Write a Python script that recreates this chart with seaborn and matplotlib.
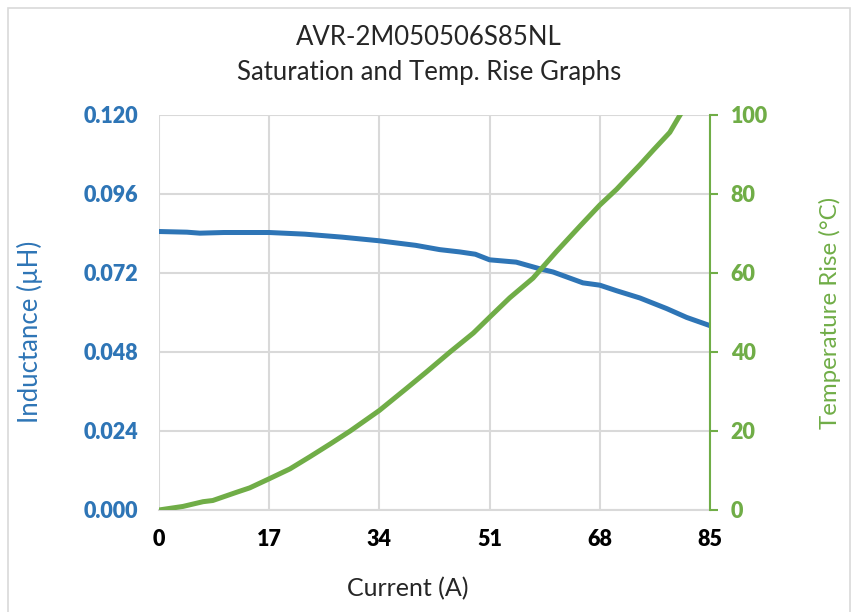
import numpy as np
import pandas as pd
import matplotlib
matplotlib.use('Agg')
import matplotlib.pyplot as plt
import seaborn as sns

# values
current_l = [0, 4.3, 6.3, 10, 17, 22.5, 28.2, 33.9, 39.6, 43.3, 46.4, 48.8,
             51, 55.1, 58.7, 60.8, 65.4, 68, 70.6, 74.2, 78.3, 81.4, 85]
inductance = [0.0846, 0.0844, 0.0841, 0.0843, 0.0843, 0.0838, 0.0829, 0.0818,
              0.0804, 0.0791, 0.0784, 0.0777, 0.0760, 0.0753, 0.0733, 0.0723,
              0.0690, 0.0683, 0.0666, 0.0644, 0.0612, 0.0585, 0.0560]

current_t = [0, 3.7, 6.8, 8.3, 12, 14, 17, 20.2, 23.3, 26.4, 29.5, 34, 38.2,
             41.3, 44.9, 48.5, 51, 54.1, 57.7, 61.3, 64.9, 68, 70.6, 72.1,
             74.2, 76.3, 78.8, 80.2, 81.5]
temp_rise = [0, 0.9, 2.1, 2.4, 4.5, 5.6, 7.9, 10.4, 13.5, 16.7, 20.0, 25.2,
             30.8, 35.0, 40.0, 44.8, 48.8, 53.7, 58.7, 65.4, 71.8, 77.2, 81.2,
             83.8, 87.4, 91.2, 95.6, 99.5, 103]

x_ticks = [0, 17, 34, 51, 68, 85]
l_ticks = [0.000, 0.024, 0.048, 0.072, 0.096, 0.120]
t_ticks = [0, 20, 40, 60, 80, 100]

blue = '#2E75B6'
green = '#70AD47'
grid_c = '#D9D9D9'

sns.set_theme(style='white')
plt.rcParams['font.family'] = ['Lato', 'DejaVu Sans']

fig = plt.figure(figsize=(8.58, 6.12), dpi=100)
ax = fig.add_axes([0.1853, 0.1667, 0.6422, 0.6454])

# chart border
fig.patches.append(plt.Rectangle((0.009, -0.01), 0.982, 0.997, transform=fig.transFigure,
                                 fill=False, edgecolor='#D9D9D9', linewidth=1.2))

df_l = pd.DataFrame({'Current': current_l, 'Inductance': inductance})
df_t = pd.DataFrame({'Current': current_t, 'Temp': temp_rise})

sns.lineplot(data=df_l, x='Current', y='Inductance', ax=ax, color=blue,
             linewidth=3.6, zorder=3)
ax.set_xlim(0, 85)
ax.set_ylim(0, 0.12)
ax.set_xticks(x_ticks)
ax.set_yticks(l_ticks)
ax.set_yticklabels([f'{v:.3f}' for v in l_ticks])
ax.grid(True, color=grid_c, linewidth=1.5)
for s in ['top', 'right', 'left']:
    ax.spines[s].set_visible(False)
ax.spines['bottom'].set_color(grid_c)
ax.spines['bottom'].set_linewidth(1.5)
ax.tick_params(axis='x', length=6, color=grid_c, width=1.5, pad=8,
               labelsize=15.5, labelcolor='black')
ax.tick_params(axis='y', length=0, pad=15, labelsize=15.5, labelcolor=blue)
for lbl in ax.get_xticklabels() + ax.get_yticklabels():
    lbl.set_fontweight('heavy')
ax.set_xlabel('Current (A)', fontsize=18)
ax.xaxis.set_label_coords(0.452, -0.17)
ax.set_ylabel('Inductance (µH)', fontsize=18.5, color=blue)
ax.yaxis.set_label_coords(-0.21, 0.45)

ax2 = ax.twinx()
sns.lineplot(data=df_t, x='Current', y='Temp', ax=ax2, color=green,
             linewidth=3.6, zorder=3)
ax2.set_ylim(0, 100)
ax2.set_yticks(t_ticks)
ax2.grid(False)
for s in ['top', 'left', 'bottom']:
    ax2.spines[s].set_visible(False)
ax2.spines['right'].set_color(green)
ax2.spines['right'].set_linewidth(1.5)
ax2.tick_params(axis='y', length=6, color=green, width=1.5, pad=9,
                labelsize=15.5, labelcolor=green, right=True)
for lbl in ax2.get_yticklabels():
    lbl.set_fontweight('heavy')
ax2.set_ylabel('Temperature Rise (°C)', fontsize=17.3, color=green)
ax2.yaxis.set_label_coords(1.197, 0.5)

fig.text(0.5, 0.938, 'AVR-2M050506S85NL', ha='center', va='center', fontsize=18.5)
fig.text(0.5, 0.882, 'Saturation and Temp. Rise Graphs', ha='center', va='center',
         fontsize=18.5)

fig.savefig('out.png', dpi=100)
